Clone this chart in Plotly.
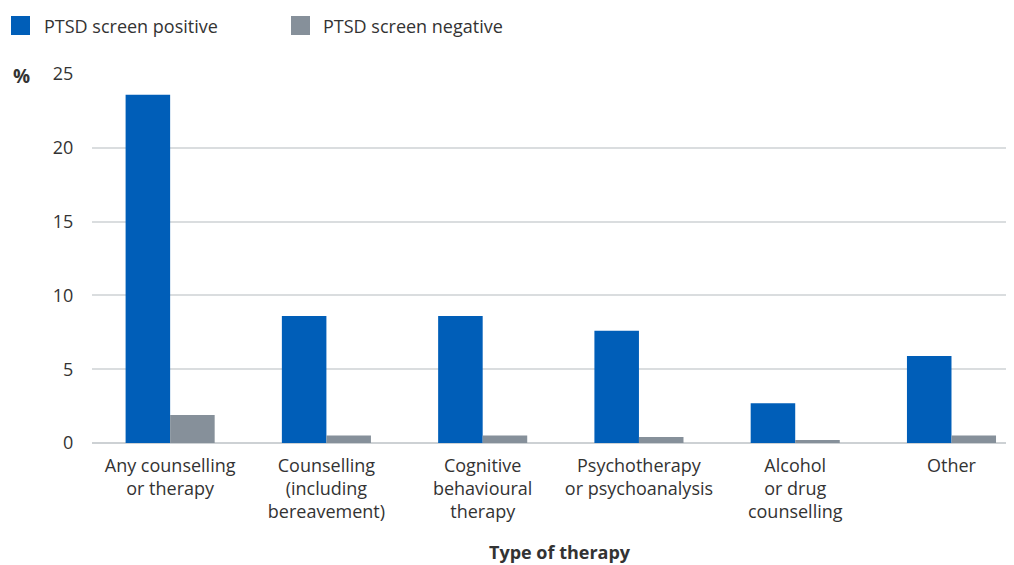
import plotly.graph_objects as go

categories = ["Any counselling<br>or therapy", "Counselling<br>(including<br>bereavement)",
              "Cognitive<br>behavioural<br>therapy", "Psychotherapy<br>or psychoanalysis",
              "Alcohol<br>or drug<br>counselling", "Other"]
positive = [23.6, 8.6, 8.6, 7.6, 2.7, 5.9]
negative = [1.9, 0.5, 0.5, 0.4, 0.2, 0.5]
series_names = ["PTSD screen positive", "PTSD screen negative"]
colors = ["#005EB8", "#86909A"]
yticks = [0, 5, 10, 15, 20, 25]

OFF = 8  # page body margin
W, H = 1014 - OFF, 565 - OFF
L, R, T, B = 92 - OFF, 0, 74 - OFF, 122
pw, ph = W - L - R, H - T - B

def px(x):  # screen x -> paper
    return (x - OFF - L) / pw

def py(y):  # screen y -> paper
    return (H - B - (y - OFF)) / ph

FONT = "Open Sans, Noto Sans, sans-serif"
TXT = "#333333"

fig = go.Figure()
for name, vals, c in zip(series_names, [positive, negative], colors):
    fig.add_trace(go.Bar(x=categories, y=vals, name=name, marker_color=c,
                         marker_line_width=0, showlegend=False))

shapes = []
annotations = []
for (x0, tx), name, c in zip([(11, 42), (291, 321)], series_names, colors):
    shapes.append(dict(type="rect", xref="paper", yref="paper",
                       x0=px(x0), x1=px(x0 + 19), y0=py(35), y1=py(16),
                       fillcolor=c, line_width=0))
    annotations.append(dict(text=name, xref="paper", yref="paper", x=px(tx), y=py(26),
                            xanchor="left", yanchor="middle", showarrow=False,
                            font=dict(size=18, color=TXT, family=FONT)))

annotations.append(dict(text="<b>%</b>", xref="paper", yref="paper", x=px(11), y=py(76),
                        xanchor="left", yanchor="middle", showarrow=False,
                        font=dict(size=19, color=TXT, family=FONT)))
annotations.append(dict(text="<b>Type of therapy</b>", xref="paper", yref="paper",
                        x=px(560), y=py(552), xanchor="center", yanchor="middle",
                        showarrow=False, font=dict(size=18, color=TXT, family=FONT)))

fig.update_layout(
    width=W, height=H,
    margin=dict(l=L, r=R, t=T, b=B, pad=0),
    paper_bgcolor="white", plot_bgcolor="white",
    barmode="group", bargap=0.43, bargroupgap=0,
    font=dict(family=FONT, size=18, color=TXT),
    shapes=shapes, annotations=annotations,
    showlegend=False,
)
fig.update_xaxes(range=[-0.5, 5.4], showgrid=False, showline=False, zeroline=False,
                 tickfont=dict(size=18, color=TXT, family=FONT),
                 ticks="outside", ticklen=6, tickcolor="rgba(0,0,0,0)")
fig.update_yaxes(range=[0, 25], tickvals=yticks, showgrid=True, gridcolor="#DADDDF",
                 gridwidth=1.5, zeroline=True, zerolinecolor="#CDD1D4", zerolinewidth=1.5,
                 showline=False, ticks="outside", ticklen=14, tickcolor="rgba(0,0,0,0)",
                 tickfont=dict(size=18, color=TXT, family=FONT))

fig.write_html("out.html")
